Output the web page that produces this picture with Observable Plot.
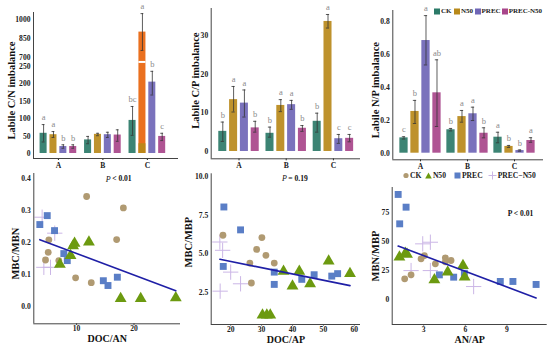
<!DOCTYPE html>
<html><head><meta charset="utf-8">
<script src="https://cdn.jsdelivr.net/npm/d3@7"></script>
<script src="https://cdn.jsdelivr.net/npm/@observablehq/plot@0.6"></script>
<style>
body{margin:0;background:#fff;}
#root{position:relative;width:550px;height:346px;overflow:hidden;font-family:"Liberation Serif","Times New Roman",serif;}
.panel{position:absolute;}
.legend{position:absolute;font:bold 7.6px "Liberation Serif","Times New Roman",serif;color:#222;display:flex;align-items:center;white-space:nowrap;}
.legend span.sw{display:inline-block;}
</style></head><body><div id="root"></div>
<script>
// ---------- data ----------
const treatments = ["CK", "N50", "PREC", "PREC-N50"];
const groups = ["A", "B", "C"];
const barColors = ["#2b7a68", "#b8891a", "#6f66b6", "#a8458a"];
const highlightColor = "#e8640c";

// Labile C/N imbalance (rows: A, B, C; cols: CK, N50, PREC, PREC-N50)
const cnMean = [[58, 54, 20, 20], [39, 55, 54, 53], [95, 900, 205, 49]];
const cnLo   = [[33, 46, 15, 15], [28, 51, 46, 35], [52, 755, 168, 37]];
const cnHi   = [[83, 63, 25, 25], [49, 58, 61, 68], [135, 1046, 236, 58]];
const cnLetters = [["a", "a", "b", "b"], ["", "", "", ""], ["bc", "a", "b", "c"]];
const cnHighlightBase = 28;
const cnTicks = [0, 50, 100, 150, 200, 250, 700, 850, 1000];

// Labile C/P imbalance
const cpMean = [[5.2, 13.4, 12.5, 6.1], [4.7, 11.9, 12.1, 6.0], [7.8, 33.6, 3.3, 3.4]];
const cpLo   = [[2.6, 10.2, 8.9, 5.0], [3.7, 10.3, 10.9, 5.2], [5.0, 31.9, 2.1, 2.5]];
const cpHi   = [[7.6, 16.8, 15.9, 7.8], [6.3, 13.4, 13.2, 6.7], [9.9, 35.4, 4.4, 4.4]];
const cpLetters = [["b", "a", "a", "b"], ["b", "a", "a", "b"], ["b", "a", "c", "c"]];

// Labile N/P imbalance
const npMean = [[0.093, 0.253, 0.683, 0.366], [0.142, 0.222, 0.239, 0.121], [0.097, 0.041, 0.016, 0.077]];
const npLo   = [[0.086, 0.18, 0.535, 0.162], [0.135, 0.188, 0.198, 0.093], [0.063, 0.035, 0.012, 0.066]];
const npHi   = [[0.1, 0.32, 0.834, 0.566], [0.15, 0.259, 0.279, 0.154], [0.127, 0.047, 0.02, 0.094]];
const npLetters = [["c", "b", "a", "ab"], ["b", "a", "a", "b"], ["a", "b", "b", "a"]];

// Scatter: MBC/MBN vs DOC/AN
const ckDocAN   = [[11.75, 0.345], [18.15, 0.309], [5.17, 0.209], [16.98, 0.21], [5.06, 0.17], [4.59, 0.146], [6.91, 0.144], [12.56, 0.075], [9.83, 0.09]];
const n50DocAN  = [[9.65, 0.198], [9.4, 0.19], [12.15, 0.202], [8.95, 0.16], [7.09, 0.132], [17.68, 0.025], [21.17, 0.025], [27.28, 0.027]];
const precDocAN = [[4.89, 0.285], [3.6, 0.257], [6.16, 0.238], [7.78, 0.166], [8.38, 0.144], [14.66, 0.081], [15.47, 0.066], [17.1, 0.092]];
const pnDocAN   = [[4.0, 0.28], [4.3, 0.123], [5.46, 0.123], [6.2, 0.23]];
// Scatter: MBC/MBP vs DOC/AP
const ckDocAP   = [[17.5, 6.2], [30.1, 6.05], [28.4, 5.28], [31.4, 4.89], [26.2, 4.39], [34.1, 4.39], [26.7, 3.09]];
const n50DocAP  = [[37.1, 3.85], [42.2, 3.85], [40.0, 2.89], [45.7, 3.04], [51.7, 4.52], [58.6, 3.7], [30.3, 1.0], [31.7, 1.0], [32.8, 1.0]];
const precDocAP = [[17.8, 8.04], [23.2, 6.55], [17.6, 4.17], [34.1, 3.8], [34.1, 3.0], [43.0, 3.33], [47.0, 3.63], [52.7, 3.54], [54.6, 3.7]];
const pnDocAP   = [[16.5, 5.76], [17.4, 5.22], [20, 3.8], [23.2, 3.04], [16.6, 2.56]];
// Scatter: MBN/MBP vs AN/AP
const ckANAP    = [[1.63, 17.9], [2.09, 21.3], [2.81, 35.2], [3.05, 38.0], [3.84, 30.8], [4.56, 36], [4.56, 32.6], [4.97, 33.7]];
const n50ANAP   = [[1.25, 36.6], [1.68, 40.0], [1.8, 39], [3.77, 17], [4.73, 23.6], [5.83, 29.4], [5.95, 19.3]];
const precANAP  = [[1.16, 90.8], [1.73, 79.8], [1.27, 65.4], [4.13, 21.3], [5.16, 19.3], [5.93, 22.7], [8.52, 15.6], [9.43, 15.6], [11.1, 13.0]];
const pnANAP    = [[2.93, 48.1], [3.48, 49.5], [2.09, 25], [3.48, 25], [6.6, 11.2]];

const ptColors = {CK: "#b09a72", N50: "#6c9a10", PREC: "#5a7ec6", PN: "#cbb6e6"};

// ---------- helpers ----------
const root = document.getElementById("root");
const FONT = '"Liberation Serif", "Times New Roman", serif';
const baseStyle = {fontFamily: FONT, fontSize: "7.6px", fontWeight: "bold", color: "#222", background: "transparent", overflow: "visible"};
const axisColor = "#444";

function place(svg, left, top) {
  const d = document.createElement("div");
  d.className = "panel"; d.style.left = left + "px"; d.style.top = top + "px";
  d.appendChild(svg); root.appendChild(d);
}

// broken axis for C/N panel
const brk = v => v <= 250 ? v : 275.9 + (v - 700) * 0.364;

function barRows(mean, lo, hi, letters, step) {
  const rows = [];
  groups.forEach((g, gi) => treatments.forEach((t, ti) => rows.push({
    gi, ti, x: gi + (ti - 1.5) * step,
    mean: mean[gi][ti], lo: lo[gi][ti], hi: hi[gi][ti], letter: letters[gi][ti]
  })));
  return rows;
}

function yTitle(label, dx, dy) {
  return Plot.text([label], {text: d => d, frameAnchor: "left", textAnchor: "middle", lineAnchor: "middle", rotate: -90, dx, dy, fontSize: 10.5, fontWeight: "bold", fill: "#111"});
}

function barPanel(o) {
  const T = o.T || (v => v);
  const rows = barRows(o.mean, o.lo, o.hi, o.letters, o.step);
  const h = o.half, cap = o.half * 0.4;
  const fillOf = d => (o.highlight && d.gi === o.highlight[0] && d.ti === o.highlight[1]) ? highlightColor : barColors[d.ti];
  const extra = o.extra ? o.extra(rows, T, h) : [];
  return Plot.plot({
    width: o.width, height: o.height,
    marginLeft: o.ml, marginRight: o.mr, marginTop: o.mt, marginBottom: o.mb,
    style: baseStyle,
    x: {domain: o.xDomain, ticks: [0, 1, 2], tickFormat: i => groups[i], tickSize: 2, tickPadding: 2, label: null},
    y: {domain: o.yDomain, ticks: o.yTicks, tickFormat: o.yFormat, tickSize: 0, tickPadding: 3, label: null},
    color: {type: "identity"},
    marks: [
      Plot.rectY(rows, {x1: d => d.x - h, x2: d => d.x + h, y1: d => T(0), y2: d => T(d.mean), fill: fillOf, fillOpacity: 0.92}),
      ...extra,
      Plot.ruleX(rows, {x: "x", y1: d => T(d.lo), y2: d => T(d.hi), stroke: "#333", strokeWidth: 0.8}),
      Plot.ruleY(rows, {y: d => T(d.hi), x1: d => d.x - cap, x2: d => d.x + cap, stroke: "#333", strokeWidth: 0.8}),
      Plot.ruleY(rows, {y: d => T(d.lo), x1: d => d.x - cap, x2: d => d.x + cap, stroke: "#333", strokeWidth: 0.8}),
      Plot.text(rows, {x: "x", y: d => T(d.hi), text: "letter", dy: -7, fill: "#8a8a8a", fontWeight: "normal", fontSize: 8.5}),
      Plot.ruleX([o.xDomain[0]], {stroke: axisColor, strokeWidth: 1}),
      Plot.ruleY([o.yDomain[0]], {stroke: axisColor, strokeWidth: 1}),
      yTitle(o.ylabel, o.ldx, o.ldy)
    ]
  });
}

function scatterPanel(o) {
  const xy = {x: d => d[0], y: d => d[1]};
  const all = [...o.ck, ...o.n50, ...o.prec, ...o.pn];
  const marks = [
    Plot.dot(o.pn, {...xy, symbol: "plus", r: 5, stroke: ptColors.PN, strokeWidth: 1}),
    Plot.dot(o.ck, {...xy, symbol: "circle", r: 3.4, fill: ptColors.CK}),
    Plot.dot(o.prec, {...xy, symbol: "square", r: 3.9, fill: ptColors.PREC}),
    Plot.dot(o.n50, {...xy, symbol: "triangle", r: 4.4, fill: ptColors.N50}),
    Plot.linearRegressionY(all, {...xy, ci: 0, stroke: "#1f1fa6", strokeWidth: 1.6}),
    Plot.ruleX([o.xDomain[0]], {stroke: axisColor, strokeWidth: 1}),
    Plot.ruleY([o.yDomain[0]], {stroke: axisColor, strokeWidth: 1}),
    yTitle(o.ylabel, o.ldx, o.ldy),
    Plot.text([o.xlabel], {text: d => d, frameAnchor: "bottom", textAnchor: "middle", lineAnchor: "middle", dy: 15, fontSize: 10, fontWeight: "bold", fill: "#111"}),
    ...o.pmarks
  ];
  return Plot.plot({
    width: o.width, height: o.height,
    marginLeft: o.ml, marginRight: o.mr, marginTop: o.mt, marginBottom: o.mb,
    style: baseStyle,
    x: {domain: o.xDomain, ticks: o.xTicks, tickFormat: d => String(d), tickSize: 1.5, tickPadding: 0.5, label: null},
    y: {domain: o.yDomain, ticks: o.yTicks, tickFormat: o.yFormat, tickSize: 0, tickPadding: 3, label: null},
    marks
  });
}

// ---------- top row ----------
place(barPanel({
  mean: cnMean, lo: cnLo, hi: cnHi, letters: cnLetters, T: brk,
  highlight: [2, 1],
  extra: (rows, T, h) => {
    const r = rows.filter(d => d.gi === 2 && d.ti === 1);
    return [
      Plot.rectY(r, {x1: d => d.x - h, x2: d => d.x + h, y1: d => 0, y2: d => cnHighlightBase, fill: barColors[1], fillOpacity: 0.92}),
      Plot.ruleY(r, {y: d => 263, x1: d => d.x - h, x2: d => d.x + h, stroke: "#fff", strokeWidth: 2})
    ];
  },
  step: 0.222, half: 0.079,
  width: 183, height: 175, ml: 33, mr: 5, mt: 12, mb: 17,
  xDomain: [-0.56, 2.70], yDomain: [-14.4, 405],
  yTicks: cnTicks.map(brk), yFormat: t => String(cnTicks[cnTicks.map(brk).indexOf(t)]),
  ylabel: "Labile C/N imbalance", ldx: -21.5, ldy: 5
}), 0, 0);

place(barPanel({
  mean: cpMean, lo: cpLo, hi: cpHi, letters: cpLetters,
  step: 0.229, half: 0.085,
  width: 183, height: 175, ml: 30.7, mr: 3, mt: 8, mb: 16.7,
  xDomain: [-0.589, 2.574], yDomain: [-1.89, 36.95],
  yTicks: [0, 10, 20, 30], yFormat: d => String(d),
  ylabel: "Labile C/P imbalance", ldx: -16, ldy: -3
}), 180, 0);

place(barPanel({
  mean: npMean, lo: npLo, hi: npHi, letters: npLetters,
  step: 0.234, half: 0.088,
  width: 190, height: 175, ml: 32.3, mr: 7, mt: 10, mb: 15.7,
  xDomain: [-0.589, 2.617], yDomain: [-0.04, 0.865],
  yTicks: [0, 0.2, 0.4, 0.6, 0.8], yFormat: d3.format(".1f"),
  ylabel: "Labile N/P imbalance", ldx: -17, ldy: 5
}), 360, 0);

// ---------- bottom row ----------
function pItalic(dx, dy, rest) {
  return [
    Plot.text(["P"], {text: d => d, frameAnchor: "top", dx, dy, textAnchor: "end", lineAnchor: "middle", fontStyle: "italic", fontWeight: "normal", fontSize: 8, fill: "#111"}),
    Plot.text([rest], {text: d => d, frameAnchor: "top", dx: dx + 1.5, dy, textAnchor: "start", lineAnchor: "middle", fontSize: 7.6, fill: "#111"})
  ];
}

place(scatterPanel({
  ck: ckDocAN, n50: n50DocAN, prec: precDocAN, pn: pnDocAN,
  width: 183, height: 176, ml: 33.3, mr: 3, mt: 3, mb: 22.7,
  xDomain: [2.55, 28.1], yDomain: [-0.054, 0.417],
  xTicks: [10, 20], yTicks: [0, 0.1, 0.2, 0.3, 0.4], yFormat: d3.format(".1f"),
  ylabel: "MBC/MBN", xlabel: "DOC/AN", ldx: -18, ldy: 5,
  pmarks: pItalic(3.5, 5.5, "< 0.01")
}), 0, 170);

place(scatterPanel({
  ck: ckDocAP, n50: n50DocAP, prec: precDocAP, pn: pnDocAP,
  width: 183, height: 176, ml: 30.7, mr: 3, mt: 3.3, mb: 22,
  xDomain: [13.7, 62], yDomain: [0.39, 10.2],
  xTicks: [20, 30, 40, 50, 60], yTicks: [2.5, 5, 7.5, 10], yFormat: d3.format(".1f"),
  ylabel: "MBC/MBP", xlabel: "DOC/AP", ldx: -23, ldy: -7,
  pmarks: pItalic(1, 5, "= 0.19")
}), 180, 170);

place(scatterPanel({
  ck: ckANAP, n50: n50ANAP, prec: precANAP, pn: pnANAP,
  width: 190, height: 176, ml: 31.7, mr: 3.3, mt: 17, mb: 22,
  xDomain: [0.73, 11.9], yDomain: [-21.6, 96.8],
  xTicks: [3, 6, 9], yTicks: [0, 25, 50, 75], yFormat: d => String(d),
  ylabel: "MBN/MBP", xlabel: "AN/AP", ldx: -16.5, ldy: 0,
  pmarks: [Plot.text(["P < 0.01"], {text: d => d, frameAnchor: "top-right", textAnchor: "middle", lineAnchor: "middle", dx: -26.7, dy: 25.7, fontSize: 7.6, fill: "#111"})]
}), 360, 170);

// ---------- legends ----------
function legend(items, left, top, fontSize) {
  const d = document.createElement("div");
  d.className = "legend"; d.style.left = left + "px"; d.style.top = top + "px";
  d.style.fontSize = fontSize + "px";
  items.forEach(it => {
    const sw = document.createElement("span");
    sw.className = "sw";
    sw.innerHTML = it.sw;
    sw.style.marginRight = "1px";
    const tx = document.createElement("span");
    tx.textContent = it.label;
    tx.style.marginRight = it.gap + "px";
    d.appendChild(sw); d.appendChild(tx);
  });
  root.appendChild(d);
}
const sq = c => `<svg width="6" height="7" style="display:block"><rect x="0" y="0.5" width="6" height="6" fill="${c}"/></svg>`;
legend(treatments.map((t, i) => ({label: t, sw: sq(barColors[i]), gap: [2.5, 1.5, 1, 0][i]})), 434, 7, 7);

const sym = {
  CK: `<svg width="6" height="7" style="display:block"><circle cx="3" cy="3.5" r="2.6" fill="${ptColors.CK}"/></svg>`,
  N50: `<svg width="7" height="7" style="display:block"><path d="M3.5,0.5L6.8,6.5L0.2,6.5Z" fill="${ptColors.N50}"/></svg>`,
  PREC: `<svg width="7" height="7" style="display:block"><rect x="0.5" y="0.5" width="6" height="6" fill="${ptColors.PREC}"/></svg>`,
  PN: `<svg width="9" height="9" style="display:block"><path d="M4.5,0.5V8.5M0.5,4.5H8.5" stroke="${ptColors.PN}" stroke-width="1"/></svg>`
};
legend([
  {label: "CK", sw: sym.CK, gap: 3.5},
  {label: "N50", sw: sym.N50, gap: 8},
  {label: "PREC", sw: sym.PREC, gap: 5},
  {label: "PREC\u2212N50", sw: sym.PN, gap: 0}
], 403, 171, 7.6);
</script>
</body></html>
